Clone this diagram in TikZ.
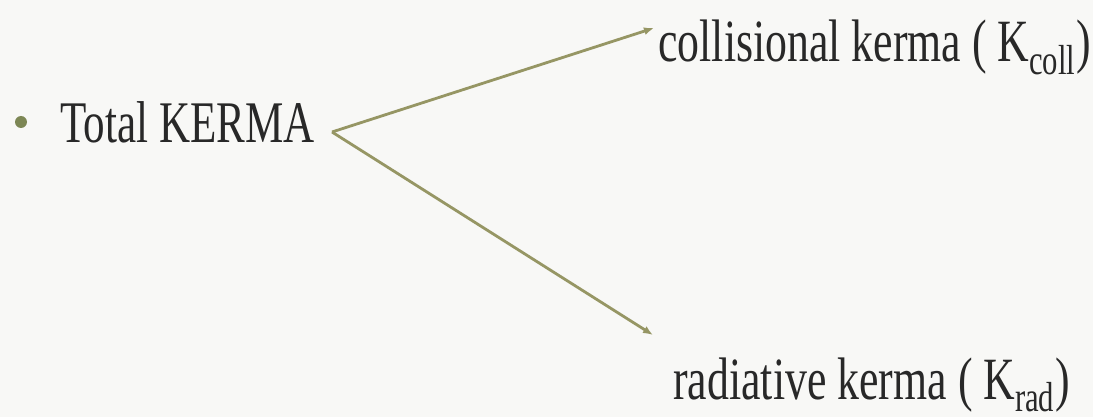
\documentclass[tikz,border=0pt]{standalone}
\usepackage{fontspec}
\setmainfont[FakeStretch=0.73]{Liberation Serif}
\usepackage{xcolor}
\usepackage{tikz}
\usetikzlibrary{arrows.meta}

\definecolor{slidebg}{RGB}{248,248,246}
\definecolor{branchcol}{RGB}{150,150,100}
\definecolor{bulletcol}{RGB}{125,135,85}
\definecolor{textcol}{RGB}{40,40,40}

\begin{document}
\begin{tikzpicture}[x=0.5pt, y=-0.5pt,
    label/.style={anchor=base west, inner sep=0pt, text=textcol,
      font=\fontsize{30}{36}\selectfont},
    branch/.style={draw=branchcol, line width=1.4pt,
      -{Latex[length=5pt, width=4pt]}}]
  % background, fixes the page size
  \fill[slidebg] (0,0) rectangle (1093,417);
  \useasboundingbox (0,0) rectangle (1093,417);

  \fill[bulletcol] (21,122) circle (6);
  \node[label, font=\fontsize{29.5}{35}\selectfont] (total) at (60,143) {Total KERMA};
  \node[label] (coll) at (658,62) {collisional kerma ( K\textsubscript{coll})};
  \node[label] (rad) at (673,399) {radiative kerma ( K\textsubscript{rad})};

  \coordinate (fork) at (332,132);
  \coordinate (collTip) at (654,28);
  \coordinate (radTip) at (653,335);
  \draw[branch] (fork) -- (collTip);
  \draw[branch] (fork) -- (radTip);
\end{tikzpicture}
\end{document}
